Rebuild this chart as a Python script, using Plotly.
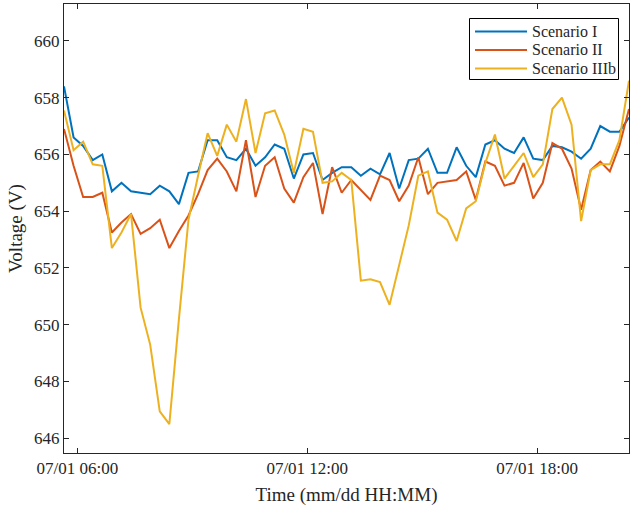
import plotly.graph_objects as go
import pandas as pd

start_time = "2020-07-01 05:39"
step_minutes = 15

scenario_i = [658.4, 656.6, 656.3, 655.8, 656.0, 654.7, 655.0, 654.7, 654.65, 654.6,
              654.9, 654.7, 654.25, 655.35, 655.4, 656.5, 656.5, 655.9, 655.8, 656.2,
              655.6, 655.9, 656.35, 656.2, 655.15, 656.0, 656.05, 655.1, 655.35, 655.55,
              655.55, 655.25, 655.5, 655.3, 656.05, 654.8, 655.8, 655.85, 656.2, 655.35,
              655.35, 656.25, 655.6, 655.2, 656.35, 656.5, 656.2, 656.05, 656.6, 655.85,
              655.8, 656.3, 656.25, 656.1, 655.85, 656.2, 657.0, 656.8, 656.8, 657.3]

scenario_ii = [656.9, 655.6, 654.5, 654.5, 654.65, 653.25, 653.6, 653.9, 653.2, 653.4,
               653.7, 652.7, 653.3, 653.85, 654.6, 655.45, 655.85, 655.4, 654.7, 656.5,
               654.5, 655.6, 655.9, 654.8, 654.3, 655.2, 655.7, 653.9, 655.55, 654.65,
               655.1, 654.75, 654.4, 655.25, 655.1, 654.35, 654.9, 655.9, 654.6, 655.0,
               655.05, 655.1, 655.4, 654.4, 655.75, 655.6, 654.9, 655.0, 655.7, 654.45,
               655.0, 656.4, 656.2, 655.5, 654.05, 655.45, 655.75, 655.4, 656.3, 657.6]

scenario_iiib = [657.55, 656.15, 656.45, 655.65, 655.6, 652.7, 653.25, 653.9, 650.6, 649.3,
                 646.95, 646.5, 650.2, 653.7, 655.25, 656.75, 655.95, 657.05, 656.45, 657.95,
                 656.05, 657.45, 657.55, 656.7, 655.35, 656.9, 656.8, 655.0, 655.05, 655.35,
                 655.1, 651.55, 651.6, 651.5, 650.7, 652.1, 653.5, 655.25, 655.4, 653.95,
                 653.7, 652.95, 654.1, 654.35, 655.7, 656.7, 655.15, 655.6, 656.05, 655.2,
                 655.65, 657.6, 658.0, 657.05, 653.65, 655.45, 655.65, 655.65, 656.5, 658.6]

series_names = ["Scenario I", "Scenario II", "Scenario IIIb"]
series_colors = ["#0072BD", "#D95319", "#EDB120"]

x_tick_vals = ["2020-07-01 06:00", "2020-07-01 12:00", "2020-07-01 18:00"]
x_tick_text = ["07/01 06:00", "07/01 12:00", "07/01 18:00"]
y_tick_vals = [646, 648, 650, 652, 654, 656, 658, 660]

times = pd.date_range(start_time, periods=len(scenario_i), freq=f"{step_minutes}min")

W, H = 630, 512
ML, MR, MT, MB = 64, 1, 4, 59
PW, PH = W - ML - MR, H - MT - MB


def px2paper_x(px):
    return (px - ML) / PW


def px2paper_y(py):
    return 1 - (py - MT) / PH


fig = go.Figure()
for name, vals, col in zip(series_names, [scenario_i, scenario_ii, scenario_iiib], series_colors):
    fig.add_trace(go.Scatter(x=times, y=vals, mode="lines", name=name,
                             line=dict(color=col, width=2), showlegend=False))

axis_col = "#262626"
font_family = "Liberation Serif"

# Legend drawn as a boxed key in paper coordinates
shapes = [dict(type="rect", xref="paper", yref="paper",
               x0=px2paper_x(469.5), x1=px2paper_x(618.5),
               y0=px2paper_y(79.5), y1=px2paper_y(18.5),
               line=dict(color="#000000", width=1), fillcolor="white", layer="above")]
annotations = []
row_y = [31.5, 50.0, 68.5]
for name, col, ry in zip(series_names, series_colors, row_y):
    shapes.append(dict(type="line", xref="paper", yref="paper",
                       x0=px2paper_x(475), x1=px2paper_x(527),
                       y0=px2paper_y(ry), y1=px2paper_y(ry),
                       line=dict(color=col, width=2), layer="above"))
    annotations.append(dict(text=name, xref="paper", yref="paper",
                            x=px2paper_x(530), y=px2paper_y(ry),
                            xanchor="left", yanchor="middle", showarrow=False,
                            font=dict(family=font_family, size=16, color=axis_col)))

fig.update_layout(
    width=W, height=H,
    margin=dict(l=ML, r=MR, t=MT, b=MB),
    paper_bgcolor="white", plot_bgcolor="white",
    font=dict(family=font_family, color=axis_col, size=17),
    showlegend=False,
    shapes=shapes,
    annotations=annotations,
    xaxis=dict(
        range=["2020-07-01 05:39", "2020-07-01 20:24"],
        tickvals=x_tick_vals, ticktext=x_tick_text,
        showgrid=False, zeroline=False,
        showline=True, linecolor=axis_col, linewidth=1, mirror="ticks",
        ticks="inside", ticklen=5, tickcolor=axis_col,
        tickfont=dict(size=17, color=axis_col, family=font_family),
        title=dict(text="Time (mm/dd HH:MM)", font=dict(size=19, color=axis_col, family=font_family), standoff=10),
    ),
    yaxis=dict(
        range=[645.48, 661.3],
        tickvals=y_tick_vals,
        showgrid=False, zeroline=False,
        showline=True, linecolor=axis_col, linewidth=1, mirror="ticks",
        ticks="inside", ticklen=5, tickcolor=axis_col,
        tickfont=dict(size=17, color=axis_col, family=font_family),
        title=dict(text="Voltage (V)", font=dict(size=19, color=axis_col, family=font_family), standoff=6),
    ),
)

fig.write_html("out.html")
